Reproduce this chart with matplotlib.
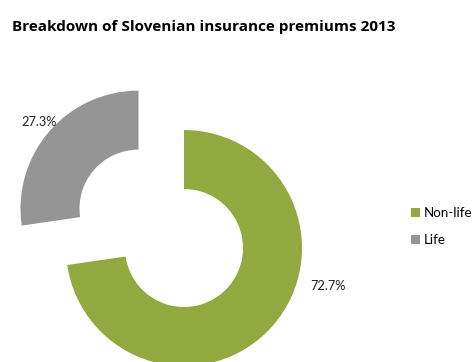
import matplotlib
matplotlib.use("Agg")
import matplotlib.pyplot as plt

categories = ["Non-life", "Life"]
values = [72.7, 27.3]
pct_labels = ["72.7%", "27.3%"]
colors = ["#92A93F", "#959595"]
title = "Breakdown of Slovenian insurance premiums 2013"

W, H = 476, 362
R = 118.0
cx, cy = 184.0, 248.0

plt.rcParams['font.family'] = ['Lato', 'DejaVu Sans']
fig = plt.figure(figsize=(W / 100, H / 100), dpi=100)
ax = fig.add_axes([0, 0, 1, 1])

wedges, _ = ax.pie(values, colors=colors, startangle=90, counterclock=False,
                   explode=[0, 0.51], radius=1.0,
                   wedgeprops=dict(width=0.5, linewidth=0))
ax.set_xlim((0 - cx) / R, (W - cx) / R)
ax.set_ylim(-(H - cy) / R, cy / R)
ax.set_aspect('auto')
ax.axis('off')

def px(x, y):
    return (x - cx) / R, (cy - y) / R

ax.text(*px(328, 286), pct_labels[0], ha='center', va='center', fontsize=9.2, color='#222222')
ax.text(*px(39, 122), pct_labels[1], ha='center', va='center', fontsize=9.2, color='#222222')

fig.text(12 / W, 1 - 27 / H, title, fontsize=11, fontweight='bold', ha='left', va='center',
         family=['Open Sans', 'DejaVu Sans'])

fig.legend(wedges, categories, loc='upper left', bbox_to_anchor=(402 / W, 1 - 198 / H),
           frameon=False, fontsize=9.6, handlelength=0.65, handleheight=0.65,
           handletextpad=0.3, labelspacing=1.1, borderaxespad=0.3)

fig.savefig("out.png", dpi=100)
